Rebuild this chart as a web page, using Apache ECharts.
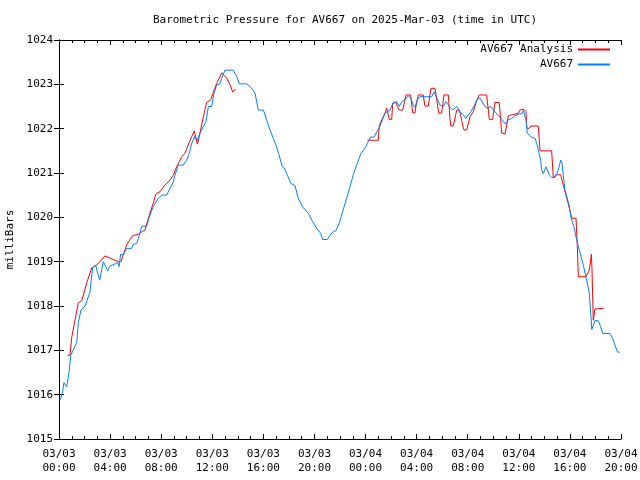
<!DOCTYPE html>
<html>
<head>
<meta charset="utf-8">
<script src="https://cdn.jsdelivr.net/npm/echarts@6/dist/echarts.min.js"></script>
<style>html,body{margin:0;padding:0;background:#fff}#c{width:640px;height:480px}</style>
</head>
<body>
<div id="c"></div>
<script>
// hours since 2025-03-03 00:00 UTC
var blueT = [0.08,0.26,0.39,0.60,0.78,0.92,1.12,1.39,1.51,1.72,2.04,2.17,2.43,2.51,2.64,2.87,3.03,3.19,3.47,3.60,3.81,3.99,4.33,4.60,4.70,4.83,5.03,5.30,5.69,5.82,6.08,6.34,6.47,6.87,7.07,7.38,7.77,8.04,8.43,8.69,8.95,9.08,9.34,9.73,10.00,10.20,10.39,10.65,10.83,11.04,11.30,11.51,11.69,11.95,12.14,12.35,12.60,12.74,13.00,13.65,13.92,14.12,14.70,15.09,15.35,15.60,16.00,16.26,16.52,16.78,17.04,17.30,17.48,17.64,17.87,18.14,18.48,18.73,19.08,19.52,19.78,20.18,20.49,20.65,21.01,21.22,21.48,21.69,21.94,22.21,22.52,22.78,23.04,23.35,23.62,23.96,24.22,24.40,24.66,25.13,25.27,25.52,25.91,26.17,26.44,26.64,26.83,27.09,27.35,27.53,27.74,27.87,28.05,28.26,29.18,29.36,29.57,29.83,30.09,30.30,30.56,30.82,31.14,31.39,31.65,31.86,32.04,32.25,32.49,32.75,32.96,33.22,33.48,33.82,34.13,34.66,34.92,35.18,35.44,35.70,35.96,36.22,36.35,36.56,36.66,36.93,37.27,37.40,37.52,37.71,37.79,37.92,38.13,38.39,38.57,38.83,38.97,39.09,39.28,39.38,39.48,39.61,39.93,40.01,40.14,40.32,40.48,40.66,40.84,41.05,41.31,41.52,41.63,41.71,41.83,41.96,42.22,42.41,42.57,43.14,43.35,43.53,43.72,43.92];
var blueV = [1015.88,1016.03,1016.27,1016.18,1016.49,1016.89,1017.01,1017.17,1017.62,1017.91,1018.00,1018.10,1018.32,1018.55,1018.87,1018.92,1018.74,1018.59,1019.00,1018.98,1018.80,1018.90,1018.94,1018.98,1018.89,1019.17,1019.15,1019.30,1019.30,1019.39,1019.41,1019.64,1019.80,1019.80,1020.01,1020.24,1020.43,1020.50,1020.50,1020.65,1020.80,1020.95,1021.18,1021.18,1021.29,1021.44,1021.67,1021.83,1021.73,1021.91,1022.04,1022.16,1022.50,1022.50,1022.80,1022.99,1023.01,1023.14,1023.32,1023.32,1023.17,1023.01,1023.01,1022.91,1022.80,1022.42,1022.42,1022.20,1021.97,1021.78,1021.59,1021.33,1021.14,1021.11,1020.96,1020.77,1020.71,1020.43,1020.23,1020.09,1019.94,1019.75,1019.64,1019.50,1019.50,1019.60,1019.68,1019.70,1019.87,1020.13,1020.43,1020.69,1020.96,1021.22,1021.43,1021.56,1021.71,1021.81,1021.81,1022.06,1022.16,1022.35,1022.42,1022.59,1022.61,1022.50,1022.61,1022.65,1022.74,1022.69,1022.53,1022.48,1022.65,1022.72,1022.72,1022.83,1022.69,1022.53,1022.50,1022.61,1022.50,1022.42,1022.50,1022.38,1022.31,1022.23,1022.31,1022.38,1022.51,1022.66,1022.69,1022.56,1022.46,1022.50,1022.38,1022.21,1022.11,1022.20,1022.23,1022.29,1022.33,1022.33,1022.41,1022.20,1021.90,1021.82,1021.78,1021.67,1021.63,1021.29,1021.07,1020.99,1021.14,1020.96,1020.90,1020.90,1020.98,1021.07,1021.29,1021.22,1020.96,1020.62,1020.28,1020.13,1019.94,1019.79,1019.56,1019.34,1019.15,1018.92,1018.59,1018.29,1017.84,1017.47,1017.47,1017.67,1017.67,1017.53,1017.38,1017.38,1017.27,1017.12,1016.96,1016.96];
// null marks a gap in the analysis series
var redT = [0.65,0.86,0.99,1.25,1.51,1.78,2.17,2.56,2.95,3.60,4.64,4.85,5.30,5.74,6.21,6.52,6.73,7.07,7.38,7.59,7.91,8.30,8.69,8.95,9.21,9.61,9.86,10.12,10.39,10.59,10.83,10.98,11.30,11.56,11.88,12.14,12.35,12.55,12.74,12.86,13.13,13.39,13.60,13.83,19.0,24.14,25.00,25.08,25.52,25.66,25.86,26.05,26.12,26.38,26.49,26.64,26.91,27.17,27.53,27.69,27.87,27.95,28.13,28.52,28.65,28.91,29.12,29.44,29.62,29.73,29.96,30.14,30.48,30.61,30.67,30.87,31.14,31.34,31.47,31.60,31.71,31.92,32.18,32.43,32.70,32.90,33.48,33.69,33.95,34.13,34.47,34.66,34.92,35.18,35.70,35.96,36.09,36.40,36.56,36.62,36.74,36.95,37.52,37.66,38.57,38.70,38.91,39.28,39.36,39.69,40.01,40.14,40.48,40.58,40.66,41.26,41.52,41.63,41.68,41.73,41.83,41.96,42.04,42.66];
var redV = [1016.89,1016.89,1017.28,1017.68,1018.07,1018.12,1018.52,1018.86,1018.92,1019.13,1019.00,1019.00,1019.38,1019.58,1019.62,1019.68,1019.71,1020.05,1020.32,1020.53,1020.58,1020.73,1020.84,1020.95,1021.14,1021.37,1021.44,1021.63,1021.82,1021.95,1021.65,1021.82,1022.27,1022.59,1022.65,1022.87,1023.02,1023.14,1023.26,1023.25,1023.14,1022.99,1022.83,1022.89,null,1021.74,1021.74,1022.08,1022.35,1022.46,1022.21,1022.21,1022.57,1022.59,1022.50,1022.42,1022.42,1022.76,1022.76,1022.36,1022.36,1022.51,1022.76,1022.76,1022.51,1022.51,1022.91,1022.91,1022.57,1022.35,1022.35,1022.76,1022.76,1022.23,1022.06,1022.06,1022.42,1022.42,1022.27,1022.08,1021.97,1021.97,1022.27,1022.38,1022.63,1022.76,1022.76,1022.21,1022.21,1022.59,1022.59,1021.90,1021.88,1022.29,1022.33,1022.35,1022.42,1022.44,1022.38,1022.04,1021.99,1022.06,1022.06,1021.50,1021.50,1020.90,1020.96,1020.96,1020.86,1020.50,1020.15,1019.98,1019.98,1019.34,1018.66,1018.66,1018.81,1019.04,1019.17,1018.81,1017.68,1017.93,1017.95,1017.95];

var titleText = 'Barometric Pressure for AV667 on 2025-Mar-03 (time in UTC)';
var yName = 'milliBars';
var seriesNames = ['AV667 Analysis', 'AV667'];

function pairs(t, v) { return t.map(function (x, i) { return [x, v[i]]; }); }
function fmtX(h) {
  var d = 3 + Math.floor(h / 24), hh = h % 24;
  var p = function (n) { return (n < 10 ? '0' : '') + n; };
  return '03/' + p(d) + '\n' + p(hh) + ':00';
}
var FONT = 'DejaVu Sans Mono';
var chart = echarts.init(document.getElementById('c'), null, {renderer: 'canvas'});
var axisCommon = {
  axisLine: {show: true, lineStyle: {color: '#000', width: 1}},
  splitLine: {show: false}
};
chart.setOption({
  animation: false,
  backgroundColor: '#fff',
  title: {text: titleText, left: 340, top: 10, textAlign: 'center',
    textStyle: {fontFamily: FONT, fontSize: 11, fontWeight: 'normal', color: '#000'}},
  legend: {
    data: seriesNames, orient: 'vertical', right: 25, top: 39, align: 'right',
    itemWidth: 32, itemHeight: 2, itemGap: 4, icon: 'rect',
    textStyle: {fontFamily: FONT, fontSize: 11, color: '#000'}
  },
  grid: {left: 59, right: 19, top: 40, bottom: 41, containLabel: false, outerBoundsMode: 'none'},
  xAxis: [
    Object.assign({type: 'value', min: 0, max: 44, interval: 4, position: 'bottom',
      axisTick: {show: true, inside: true, length: 5, lineStyle: {color: '#000'}},
      minorTick: {show: true, splitNumber: 4, length: 3, lineStyle: {color: '#000'}},
      axisLabel: {formatter: fmtX, fontFamily: FONT, fontSize: 11, color: '#000', lineHeight: 14, margin: 8}
    }, axisCommon),
    Object.assign({type: 'value', min: 0, max: 44, interval: 4, position: 'top',
      axisTick: {show: true, inside: true, length: 5, lineStyle: {color: '#000'}},
      minorTick: {show: true, splitNumber: 4, length: 3, lineStyle: {color: '#000'}},
      axisLabel: {show: false}
    }, axisCommon)
  ],
  yAxis: [
    Object.assign({type: 'value', min: 1015, max: 1024, interval: 1, position: 'left',
      name: yName, nameLocation: 'middle', nameGap: 43, nameRotate: 90,
      nameTextStyle: {fontFamily: FONT, fontSize: 11, color: '#000'},
      axisTick: {show: true, inside: true, length: 5, lineStyle: {color: '#000'}},
      axisLabel: {fontFamily: FONT, fontSize: 11, color: '#000', margin: 6,
        formatter: function (v) { return String(v); }}
    }, axisCommon),
    Object.assign({type: 'value', min: 1015, max: 1024, interval: 1, position: 'right',
      axisTick: {show: true, inside: true, length: 5, lineStyle: {color: '#000'}},
      axisLabel: {show: false}
    }, axisCommon)
  ],
  series: [
    {name: seriesNames[0], type: 'line', data: pairs(redT, redV), showSymbol: false, connectNulls: false,
      lineStyle: {color: '#ff0000', width: 1}, itemStyle: {color: '#ff0000'}, xAxisIndex: 0, yAxisIndex: 0},
    {name: seriesNames[1], type: 'line', data: pairs(blueT, blueV), showSymbol: false,
      lineStyle: {color: '#0080ff', width: 1}, itemStyle: {color: '#0080ff'}, xAxisIndex: 0, yAxisIndex: 0}
  ]
});
</script>
</body>
</html>
